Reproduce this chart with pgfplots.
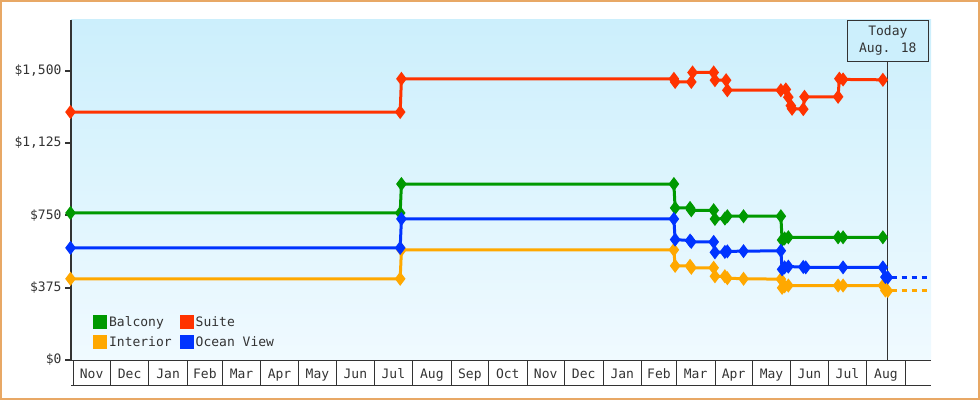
\documentclass[border=0pt]{standalone}
\usepackage{fontspec}
\setmainfont{DejaVu Sans Mono}
\usepackage{pgfplots}
\pgfplotsset{compat=1.18}

\definecolor{txt}{HTML}{333333}
\definecolor{frame}{HTML}{E8A865}
\definecolor{bgtop}{HTML}{CCEFFC}
\definecolor{bgbot}{HTML}{F0FAFF}
\definecolor{balcony}{HTML}{009900}
\definecolor{suite}{HTML}{FF3300}
\definecolor{interior}{HTML}{FFA800}
\definecolor{oceanview}{HTML}{0033FF}

\begin{document}
\begin{tikzpicture}[x=1bp,y=1bp]
\useasboundingbox (0,0) rectangle (980,400);
\draw[frame, line width=2bp] (1,1) rectangle (979,399);
% x = days since 1 Nov of the first year
\begin{axis}[
    at={(71bp,40bp)}, anchor=south west,
    width=860bp, height=340bp, scale only axis,
    xmin=-1.6, xmax=689.7, ymin=0, ymax=1762,
    clip=false,
    axis line style={draw=none},
    axis background/.style={shade, top color=bgtop, bottom color=bgbot},
    font=\fontsize{13bp}{15bp}\selectfont, text=txt,
    tick align=outside,
    tick pos=left,
    major tick length=6bp,
    minor tick length=25bp,
    ytick={0,375,750,1125,1500},
    yticklabels={{\$0},{\$375},{\$750},{\$1,125},{\$1,500}},
    ytick style={line width=2bp, txt},
    xtick={15,45.5,76.5,106,135.5,166,196.5,227,257.5,288.5,319,349.5,380,410.5,441.5,471,500.5,531,561.5,592,622.5,653.5},
    xticklabels={Nov,Dec,Jan,Feb,Mar,Apr,May,Jun,Jul,Aug,Sep,Oct,Nov,Dec,Jan,Feb,Mar,Apr,May,Jun,Jul,Aug},
    major x tick style={draw=none},
    minor xtick={0,30,61,92,120,151,181,212,242,273,304,334,365,395,426,457,485,516,546,577,607,638,669},
    minor x tick style={line width=0.8bp, txt},
    xticklabel style={anchor=base, yshift=-12.3bp},
    every axis plot/.append style={line width=3bp, mark=diamond*, mark size=4.6bp,
        mark options={solid}},
    legend columns=2,
    legend cell align=left,
    legend style={at={(0.022,0.14)}, anchor=north west, draw=none, fill=none,
        font=\fontsize{13bp}{15bp}\selectfont, text=txt,
        nodes={inner sep=2bp}, row sep=4.5bp,
        /tikz/every even column/.append style={column sep=6bp}},
    legend image code/.code={\fill[#1] (0bp,-5.5bp) rectangle (11bp,5.5bp);},
]
% today marker (drawn under the series)
\draw[txt, line width=0.8bp] (axis cs:655,0) -- (axis cs:655,1550);

\addplot[color=balcony] coordinates {(-2,762) (263,762) (264,912) (483,912) (484,788) (496,788) (497,776) (515,776) (516,731) (524,733) (526,745) (539,745) (569,745) (570,622) (572,630) (575,636) (615,636) (619,636) (651,636)};
\addplot[color=suite] coordinates {(-2,1285) (263,1285) (264,1457) (483,1457) (484,1441) (497,1441) (498,1490) (515,1490) (516,1450) (525,1450) (526,1398) (569,1398) (573,1402) (575,1362) (577,1318) (578,1302) (587,1300) (588,1364) (615,1364) (616,1458) (619,1454) (651,1452)};
\addplot[color=interior] coordinates {(-2,421) (263,421) (264,571) (483,571) (484,488) (496,488) (497,478) (515,478) (516,434) (524,434) (526,424) (539,421) (569,419) (570,374) (572,382) (575,386) (615,386) (619,386) (651,386) (653,360) (655,358)};
\addplot[color=oceanview] coordinates {(-2,581) (263,581) (264,731) (483,731) (484,624) (496,619) (497,612) (515,612) (516,558) (524,560) (526,563) (539,564) (569,566) (570,470) (572,480) (575,484) (587,482) (589,480) (619,480) (651,480) (653,430) (655,428)};
\legend{Balcony,Suite,Interior,Ocean View}

% projections past today
\addplot[color=oceanview, dash pattern=on 5bp off 5bp, mark=none, forget plot] coordinates {(658,428) (689.7,428)};
\addplot[color=interior, dash pattern=on 5bp off 5bp, mark=none, forget plot] coordinates {(658,358) (689.7,358)};

% axis lines and month strip
\draw[txt, line width=2bp] (rel axis cs:0,0) -- (rel axis cs:0,1);
\draw[txt, line width=0.8bp] (rel axis cs:0,0) -- (rel axis cs:1,0);
\draw[txt, line width=0.8bp] ([yshift=-25bp]rel axis cs:0,0) -- ([yshift=-25bp]rel axis cs:1,0);

\node[draw=txt, line width=0.8bp, fill=bgtop, anchor=north, minimum width=80.7bp,
      minimum height=40.7bp, align=center, inner sep=0pt,
      font=\fontsize{13bp}{17bp}\selectfont]
  at (axis cs:655,1762) {Today\\Aug. 18};
\end{axis}
\end{tikzpicture}
\end{document}
